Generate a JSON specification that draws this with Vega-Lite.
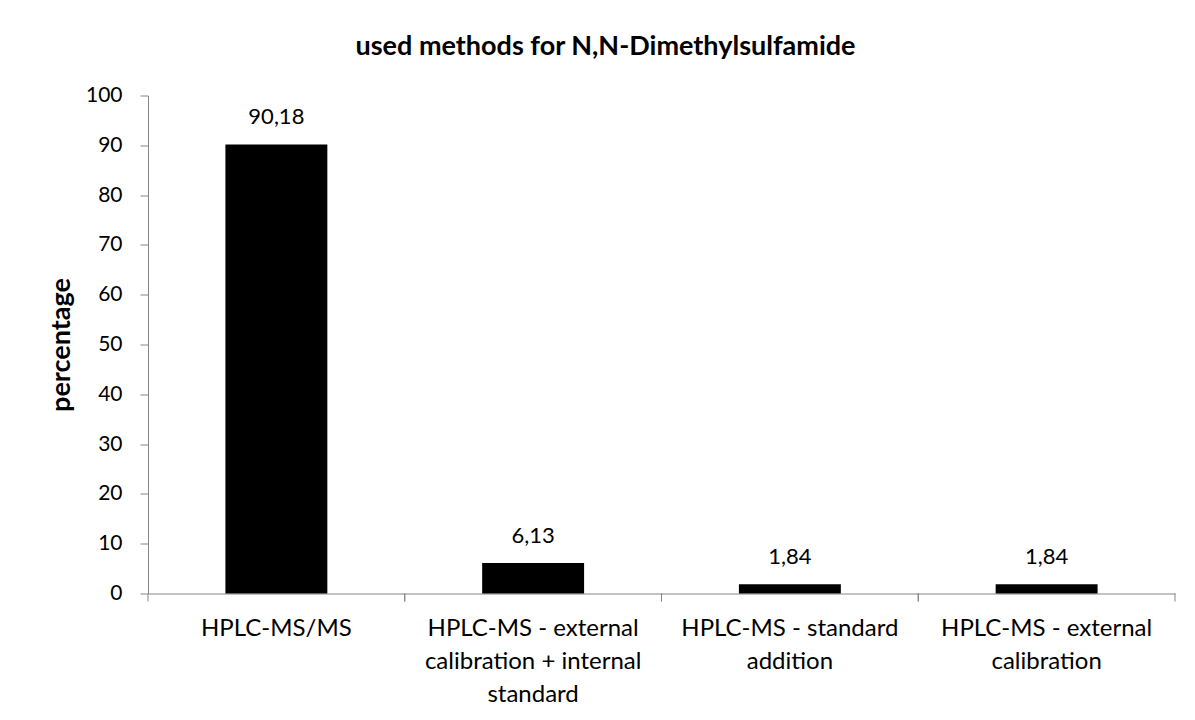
{
  "$schema": "https://vega.github.io/schema/vega-lite/v6.json",
  "width": 1027,
  "height": 498,
  "autosize": {"type": "none"},
  "padding": {"left": 148, "top": 95.5, "right": 20, "bottom": 126.5},
  "background": "white",
  "config": {
    "view": {"stroke": null},
    "font": "Lato",
    "locale": {"number": {"decimal": ",", "thousands": ".", "grouping": [3], "currency": ["", " €"]}}
  },
  "title": {
    "text": "used methods for N,N-Dimethylsulfamide",
    "font": "Lato",
    "fontSize": 27,
    "fontWeight": "bold",
    "color": "black",
    "anchor": "middle",
    "offset": 24,
    "dx": -56
  },
  "data": {
    "values": [
      {"method": "HPLC-MS/MS", "percentage": 90.18},
      {"method": "HPLC-MS - external calibration + internal standard", "percentage": 6.13},
      {"method": "HPLC-MS - standard addition", "percentage": 1.84},
      {"method": "HPLC-MS - external calibration", "percentage": 1.84}
    ]
  },
  "encoding": {
    "x": {
      "field": "method",
      "type": "nominal",
      "sort": null,
      "scale": {"paddingInner": 0.603, "paddingOuter": 0.3015},
      "axis": {
        "title": null,
        "labelAngle": 0,
        "labelFont": "Lato",
        "labelFontSize": 24,
        "labelColor": "black",
        "labelLineHeight": 33,
        "labelPadding": 23,
        "labelBaseline": "top",
        "labelLimit": 0,
        "ticks": false,
        "domainColor": "#868686",
        "grid": false,
        "labelExpr": "datum.value == 'HPLC-MS - external calibration + internal standard' ? ['HPLC-MS - external', 'calibration + internal', 'standard'] : datum.value == 'HPLC-MS - standard addition' ? ['HPLC-MS - standard', 'addition'] : datum.value == 'HPLC-MS - external calibration' ? ['HPLC-MS - external', 'calibration'] : datum.value"
      }
    },
    "y": {
      "field": "percentage",
      "type": "quantitative",
      "scale": {"domain": [0, 100], "nice": false},
      "axis": {
        "title": "percentage",
        "titleFont": "Lato",
        "titleFontSize": 27,
        "titleFontWeight": "bold",
        "titleColor": "black",
        "titlePadding": 10,
        "values": [0, 10, 20, 30, 40, 50, 60, 70, 80, 90, 100],
        "format": "d",
        "labelFont": "Lato",
        "labelFontSize": 21,
        "labelColor": "black",
        "labelPadding": 18,
        "tickSize": 8,
        "tickColor": "#868686",
        "domainColor": "#868686",
        "grid": false
      }
    }
  },
  "layer": [
    {"mark": {"type": "bar", "color": "black"}},
    {
      "mark": {"type": "text", "dy": -27, "fontSize": 22, "font": "Lato", "color": "black"},
      "encoding": {"text": {"field": "percentage", "type": "quantitative", "format": ".2f"}}
    },
    {
      "mark": {"type": "rule", "color": "#868686", "strokeWidth": 1, "y2Offset": 8},
      "encoding": {
        "x": {"field": "method", "type": "nominal", "sort": null, "bandPosition": -0.7594},
        "y": {"datum": 0},
        "y2": {"datum": 0}
      }
    },
    {
      "mark": {"type": "rule", "color": "#868686", "strokeWidth": 1, "y2Offset": 8},
      "encoding": {
        "x": {"field": "method", "type": "nominal", "sort": null, "bandPosition": 1.7594},
        "y": {"datum": 0},
        "y2": {"datum": 0}
      }
    }
  ]
}
